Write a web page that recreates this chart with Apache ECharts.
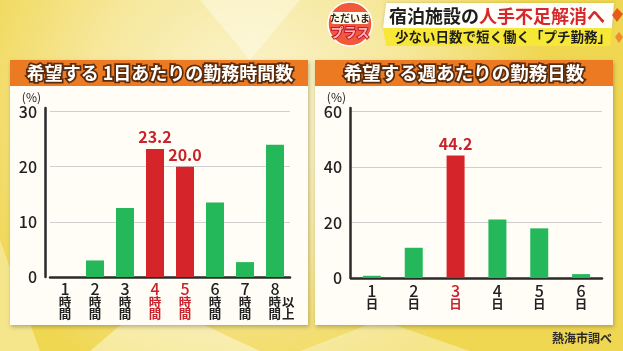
<!DOCTYPE html>
<html>
<head>
<meta charset="utf-8">
<script src="https://cdn.jsdelivr.net/npm/echarts@6/dist/echarts.min.js"></script>
<style>
html, body { margin: 0; padding: 0; }
#chart { width: 623px; height: 351px; }
</style>
</head>
<body>
<div id="chart"></div>
<script>
// 希望する1日あたりの勤務時間数
var hourCats = ['1', '2', '3', '4', '5', '6', '7', '8'];
var hourValues = [0, 3.0, 12.5, 23.2, 20.0, 13.5, 2.7, 24.0];
var hourRed = [3, 4];
var hourTicks = { max: 30, step: 10 };

// 希望する週あたりの勤務日数
var dayCats = ['1', '2', '3', '4', '5', '6'];
var dayValues = [0.8, 10.9, 44.2, 21.1, 17.9, 1.4];
var dayRed = [2];
var dayTicks = { max: 60, step: 20 };

var FONT = '"Noto Sans CJK JP", "Noto Sans", sans-serif';
var GREEN = '#25b85a';
var RED = '#d6252a';
var LABEL_RED = '#c8232c';

var myChart = echarts.init(document.getElementById('chart'));

function barData (values, redIdx) {
  return values.map(function (v, i) {
    var isRed = redIdx.indexOf(i) >= 0;
    return {
      value: v,
      itemStyle: { color: isRed ? RED : GREEN },
      label: { show: isRed }
    };
  });
}

var richBase = {
  n: { fontSize: 16, lineHeight: 14, color: '#222', fontFamily: FONT, fontWeight: 500 },
  k: { fontSize: 12.5, lineHeight: 12, color: '#222', fontFamily: FONT, fontWeight: 'bold' },
  nr: { fontSize: 16, lineHeight: 14, color: LABEL_RED, fontFamily: FONT, fontWeight: 500 },
  kr: { fontSize: 12.5, lineHeight: 12, color: LABEL_RED, fontFamily: FONT, fontWeight: 'bold' },
  ex: { fontSize: 12.5, lineHeight: 12, color: '#222', fontFamily: FONT, fontWeight: 'bold', padding: [0, 0, 0, 1] },
  gap: { width: 13 }
};

function yAxisOpt (idx, ticks, offset) {
  return {
    gridIndex: idx,
    type: 'value',
    min: 0,
    max: ticks.max + ticks.step * 0.065,
    interval: ticks.step,
    offset: offset,
    name: '(%)',
    nameLocation: 'end',
    nameGap: 3,
    nameTextStyle: { color: '#222', fontSize: 12, fontFamily: FONT, align: 'right', padding: [0, 4, 0, 0] },
    axisLine: { show: true, lineStyle: { color: '#2a2a2a', width: 2.5 } },
    axisTick: { show: false },
    axisLabel: { color: '#222', fontSize: 16, fontFamily: FONT, fontWeight: 500, margin: 8, showMaxLabel: false },
    splitLine: { show: true, showMaxLine: false, lineStyle: { color: '#cfcfcf', width: 1 } }
  };
}

var option = {
  animation: false,
  textStyle: { fontFamily: FONT },
  graphic: [
    // background
    {
      type: 'rect', z: -20, silent: true,
      shape: { x: 0, y: 0, width: 623, height: 351 },
      style: {
        fill: new echarts.graphic.RadialGradient(0.4, 0.3, 0.85, [
          { offset: 0, color: '#fbf5d2' },
          { offset: 0.55, color: '#f6e79a' },
          { offset: 1, color: '#f0d752' }
        ])
      }
    },
    { type: 'polygon', z: -19, silent: true, shape: { points: [[90, 351], [150, 300], [260, 351]] }, style: { fill: 'rgba(255,255,245,0.45)' } },
    { type: 'polygon', z: -19, silent: true, shape: { points: [[0, 240], [40, 351], [0, 351]] }, style: { fill: 'rgba(255,255,245,0.35)' } },
    { type: 'polygon', z: -19, silent: true, shape: { points: [[200, 0], [300, 0], [250, 60]] }, style: { fill: 'rgba(255,255,245,0.4)' } },
    { type: 'polygon', z: -19, silent: true, shape: { points: [[300, 351], [380, 320], [470, 351]] }, style: { fill: 'rgba(255,255,245,0.35)' } },

    // left panel
    {
      type: 'rect', z: -10, silent: true,
      shape: { x: 10, y: 60, width: 298, height: 265 },
      style: { fill: '#fffdf6', shadowBlur: 4, shadowOffsetX: 1, shadowOffsetY: 2, shadowColor: 'rgba(0,0,0,0.25)' }
    },
    { type: 'rect', z: -9, silent: true, shape: { x: 10, y: 60, width: 298, height: 26 }, style: { fill: '#ec7a22' } },
    {
      type: 'text', z: -8, silent: true, x: 160, y: 73,
      style: {
        text: '希望する 1日あたりの勤務時間数', fill: '#fff', stroke: '#5b2c0c', lineWidth: 3.5,
        font: 'bold 18px ' + FONT, align: 'center', verticalAlign: 'middle'
      }
    },

    // right panel
    {
      type: 'rect', z: -10, silent: true,
      shape: { x: 315, y: 60, width: 298, height: 265 },
      style: { fill: '#fffdf6', shadowBlur: 4, shadowOffsetX: 1, shadowOffsetY: 2, shadowColor: 'rgba(0,0,0,0.25)' }
    },
    { type: 'rect', z: -9, silent: true, shape: { x: 315, y: 60, width: 298, height: 26 }, style: { fill: '#ec7a22' } },
    {
      type: 'text', z: -8, silent: true, x: 464, y: 73,
      style: {
        text: '希望する週あたりの勤務日数', fill: '#fff', stroke: '#5b2c0c', lineWidth: 3.5,
        font: 'bold 18.5px ' + FONT, align: 'center', verticalAlign: 'middle'
      }
    },

    // top banner
    { type: 'polygon', z: -5, silent: true, shape: { points: [[386, 3], [614, 3], [612, 28], [383, 28]] }, style: { fill: '#fffef8', shadowBlur: 3, shadowColor: 'rgba(0,0,0,0.2)' } },
    { type: 'polygon', z: -5, silent: true, shape: { points: [[383, 28], [612, 28], [610, 46], [386, 46]] }, style: { fill: '#f7e736' } },
    {
      type: 'text', z: -4, silent: true, x: 389, y: 16,
      style: {
        rich: {
          b: { fill: '#1e1e1e', font: 'bold 18px ' + FONT },
          r: { fill: '#d8262a', font: 'bold 18px ' + FONT }
        },
        text: '{b|宿泊施設の}{r|人手不足解消へ}',
        align: 'left', verticalAlign: 'middle'
      }
    },
    {
      type: 'text', z: -4, silent: true, x: 395, y: 37,
      style: {
        text: '少ない日数で短く働く「プチ勤務」', fill: '#1e1e1e',
        font: 'bold 13.5px ' + FONT, align: 'left', verticalAlign: 'middle'
      }
    },
    { type: 'polygon', z: -4, silent: true, shape: { points: [[617, 8], [623, 14], [617, 22], [612, 15]] }, style: { fill: '#e8591c' } },
    { type: 'polygon', z: -4, silent: true, shape: { points: [[619, 32], [623, 37], [619, 43], [615, 37]] }, style: { fill: '#f08a2c' } },

    // logo
    { type: 'circle', z: -4, silent: true, shape: { cx: 350, cy: 24, r: 22 }, style: { fill: '#f05a3a', stroke: '#fff', lineWidth: 1.5 } },
    { type: 'rect', z: -3, silent: true, shape: { x: 331, y: 12, width: 38, height: 12, r: 3 }, style: { fill: '#fffdf0' } },
    {
      type: 'text', z: -2, silent: true, x: 350, y: 18,
      style: { text: 'ただいま', fill: '#3a2416', font: 'bold 10px ' + FONT, align: 'center', verticalAlign: 'middle' }
    },
    {
      type: 'text', z: -2, silent: true, x: 350, y: 32,
      style: { text: 'プラス', fill: '#ffb3bd', stroke: '#c2182a', lineWidth: 2, font: 'bold 13px ' + FONT, align: 'center', verticalAlign: 'middle' }
    },

    // source
    {
      type: 'text', z: -2, silent: true, x: 612, y: 338,
      style: { text: '熱海市調べ', fill: '#2a2a2a', font: 'bold 12px ' + FONT, align: 'right', verticalAlign: 'middle' }
    }
  ],
  grid: [
    { left: 50, right: 333, top: 108, bottom: 74 },
    { left: 351, right: 21, top: 108, bottom: 73 }
  ],
  xAxis: [
    {
      gridIndex: 0,
      type: 'category',
      data: hourCats,
      axisLine: { show: true, lineStyle: { color: '#2a2a2a', width: 2.5 } },
      axisTick: { show: false },
      axisLabel: {
        margin: 5,
        interval: 0,
        rich: richBase,
        formatter: function (v, i) {
          var r = hourRed.indexOf(i) >= 0 ? 'r' : '';
          if (i === hourCats.length - 1) {
            return '{gap|}{n' + r + '|' + v + '}{gap|}\n{gap|}{k' + r + '|時}{ex|以}\n{gap|}{k' + r + '|間}{ex|上}';
          }
          return '{n' + r + '|' + v + '}\n{k' + r + '|時}\n{k' + r + '|間}';
        }
      }
    },
    {
      gridIndex: 1,
      type: 'category',
      data: dayCats,
      axisLine: { show: true, lineStyle: { color: '#2a2a2a', width: 2.5 } },
      axisTick: { show: false },
      axisLabel: {
        margin: 6,
        interval: 0,
        rich: richBase,
        formatter: function (v, i) {
          var r = dayRed.indexOf(i) >= 0 ? 'r' : '';
          return '{n' + r + '|' + v + '}\n{k' + r + '|日}';
        }
      }
    }
  ],
  yAxis: [
    yAxisOpt(0, hourTicks, 5),
    yAxisOpt(1, dayTicks, 1)
  ],
  series: [
    {
      type: 'bar',
      xAxisIndex: 0,
      yAxisIndex: 0,
      barWidth: 18,
      data: barData(hourValues, hourRed),
      label: {
        position: 'top',
        distance: 4,
        color: LABEL_RED,
        fontSize: 16,
        fontWeight: 'bold',
        fontFamily: FONT,
        formatter: function (p) { return p.value.toFixed(1); }
      }
    },
    {
      type: 'bar',
      xAxisIndex: 1,
      yAxisIndex: 1,
      barWidth: 18,
      data: barData(dayValues, dayRed),
      label: {
        position: 'top',
        distance: 4,
        color: LABEL_RED,
        fontSize: 16,
        fontWeight: 'bold',
        fontFamily: FONT,
        formatter: function (p) { return p.value.toFixed(1); }
      }
    }
  ]
};

myChart.setOption(option, true);
</script>
</body>
</html>
